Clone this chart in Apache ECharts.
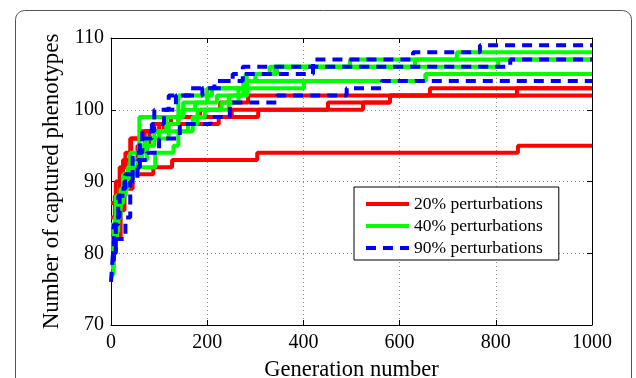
<!DOCTYPE html>
<html>
<head>
<meta charset="utf-8">
<script src="https://cdn.jsdelivr.net/npm/echarts@6.0.0/dist/echarts.min.js"></script>
<style>
  html, body { margin: 0; padding: 0; background: #fff; }
  #chart { width: 636px; height: 378px; }
</style>
</head>
<body>
<div id="chart"></div>
<script>
// legend names
var names = ['20% perturbations', '40% perturbations', '90% perturbations'];
var xTicks = [0, 200, 400, 600, 800, 1000];
var yTicks = [70, 80, 90, 100, 110];

// each run: [generation, captured phenotypes] at every step change
// 20% perturbations (red)
var red1 = [[0, 80], [5, 82], [20, 88], [30, 89], [45, 91], [88, 92], [127, 93], [304, 94], [846, 95], [1000, 95]];
var red2 = [[0, 85], [8, 88], [18, 92], [30, 94], [42, 96], [70, 97], [89, 98], [224, 99], [306, 100], [451, 101], [580, 102], [1000, 102]];
var red3 = [[0, 87], [10, 90], [25, 93], [40, 96], [60, 97], [100, 98], [125, 99], [185, 100], [227, 101], [285, 102], [663, 103], [1000, 103]];
var red4 = [[0, 83], [12, 86], [28, 90], [38, 93], [55, 95], [80, 97], [110, 98], [140, 99], [251, 100], [524, 101], [580, 102], [844, 103], [1000, 103]];

// 40% perturbations (green)
var green1 = [[0, 78], [6, 83], [15, 87], [25, 90], [45, 93], [65, 95], [90, 97], [115, 99], [150, 101], [200, 103], [282, 105], [330, 106], [497, 107], [719, 108], [1000, 108]];
var green2 = [[0, 80], [8, 85], [20, 89], [35, 92], [59, 99], [148, 100], [175, 101], [220, 102], [275, 104], [300, 105], [345, 106], [805, 107], [1000, 107]];
var green3 = [[0, 82], [12, 87], [25, 91], [45, 92], [92, 94], [130, 95], [140, 97], [170, 99], [195, 100], [245, 102], [283, 104], [654, 105], [1000, 105]];
var green4 = [[0, 77], [5, 84], [15, 88], [30, 91], [55, 93], [75, 96], [100, 97], [160, 98], [180, 100], [230, 101], [265, 103], [401, 104], [654, 105], [1000, 105]];
var green5 = [[0, 84], [10, 88], [25, 90], [40, 94], [70, 96], [120, 98], [140, 102], [210, 103], [280, 105], [340, 106], [632, 107], [1000, 107]];

// 90% perturbations (blue, dashed)
var blue1 = [[0, 76], [4, 80], [10, 85], [18, 89], [30, 91], [45, 94], [65, 97], [90, 100], [120, 102], [165, 103], [215, 104], [253, 105], [420, 107], [628, 108], [767, 109], [1000, 109]];
var blue2 = [[0, 79], [6, 84], [15, 88], [28, 90], [45, 92], [60, 96], [85, 98], [110, 100], [135, 102], [190, 103], [230, 104], [274, 106], [830, 107], [1000, 107]];
var blue3 = [[0, 80], [10, 82], [30, 85], [40, 90], [55, 93], [75, 94], [100, 96], [143, 98], [207, 99], [247, 101], [345, 102], [490, 103], [563, 104], [1000, 104]];

var redRuns = [red1, red2, red3, red4];
var greenRuns = [green1, green2, green3, green4, green5];
var blueRuns = [blue1, blue2, blue3];

var font = 'Liberation Serif';

function run(name, data, color, dashed) {
    return {
        name: name,
        type: 'line',
        step: 'end',
        data: data,
        symbol: 'none',
        legendIcon: 'none',
        animation: false,
        lineStyle: {
            color: color,
            width: 4,
            type: dashed ? [10, 7] : 'solid',
            cap: 'butt'
        },
        itemStyle: { color: color }
    };
}

var series = [];
redRuns.forEach(function(d) { series.push(run(names[0], d, '#ff0000', false)); });
greenRuns.forEach(function(d) { series.push(run(names[1], d, '#00ff00', false)); });
blueRuns.forEach(function(d) { series.push(run(names[2], d, '#0000ff', true)); });

var axisLine = { show: true, onZero: false, lineStyle: { color: '#000', width: 1 } };
var tick = { show: true, inside: true, length: 5, lineStyle: { color: '#000' } };
var grid = { show: true, lineStyle: { color: '#888', width: 1, type: [1, 3] } };

var myChart = echarts.init(document.getElementById('chart'), null, { renderer: 'canvas' });
myChart.setOption({
    backgroundColor: '#fff',
    animation: false,
    graphic: [{
        type: 'rect',
        shape: { x: 15.5, y: 10.5, width: 616, height: 420, r: 9 },
        style: { fill: 'none', stroke: '#555', lineWidth: 1 },
        z: -10
    }],
    grid: { left: 111, right: 44, top: 38, bottom: 53, outerBoundsMode: 'none', containLabel: false },
    legend: {
        data: names,
        orient: 'vertical',
        left: 354,
        top: 187,
        padding: [8, 16, 3, 10],
        itemWidth: 43,
        itemHeight: 14,
        itemGap: 4,
        backgroundColor: '#fff',
        borderColor: '#000',
        borderWidth: 1,
        borderRadius: 0,
        selectedMode: false,
        itemStyle: { opacity: 0 },
        lineStyle: { width: 4 },
        textStyle: { fontFamily: font, fontSize: 17.5, color: '#000' }
    },
    xAxis: [{
        type: 'value',
        min: 0,
        max: 1000,
        interval: 200,
        position: 'bottom',
        axisLine: axisLine,
        axisTick: tick,
        splitLine: grid,
        axisLabel: {
            fontFamily: font, fontSize: 20, color: '#000', margin: 8,
            formatter: function(v) { return String(v); }
        },
        name: 'Generation number',
        nameLocation: 'middle',
        nameGap: 34,
        nameTextStyle: { fontFamily: font, fontSize: 22.5, color: '#000' }
    }, {
        type: 'value',
        min: 0,
        max: 1000,
        interval: 200,
        position: 'top',
        axisLine: axisLine,
        axisTick: tick,
        splitLine: { show: false },
        axisLabel: { show: false }
    }],
    yAxis: [{
        type: 'value',
        min: 70,
        max: 110,
        interval: 10,
        position: 'left',
        axisLine: axisLine,
        axisTick: tick,
        splitLine: grid,
        axisLabel: { fontFamily: font, fontSize: 20, color: '#000', margin: 7 },
        name: 'Number of captured phenotypes',
        nameLocation: 'middle',
        nameGap: 48,
        nameTextStyle: { fontFamily: font, fontSize: 23, color: '#000' }
    }, {
        type: 'value',
        min: 70,
        max: 110,
        interval: 10,
        position: 'right',
        axisLine: axisLine,
        axisTick: tick,
        splitLine: { show: false },
        axisLabel: { show: false }
    }],
    series: series
});
</script>
</body>
</html>
